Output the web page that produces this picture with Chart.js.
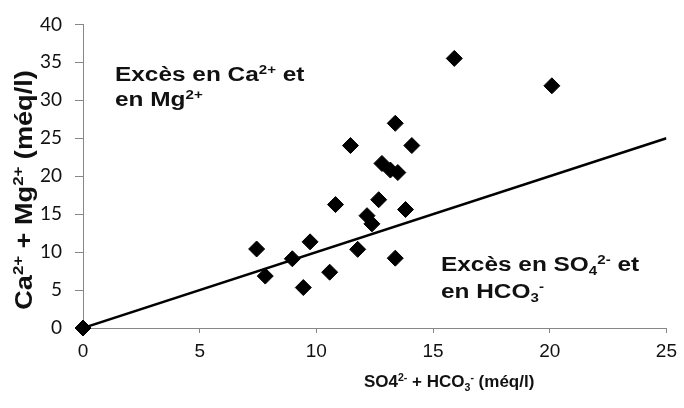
<!DOCTYPE html>
<html><head><meta charset="utf-8">
<script src="https://cdn.jsdelivr.net/npm/chart.js@4/dist/chart.umd.min.js"></script>
<style>html,body{margin:0;padding:0;background:#fff}#wrap{width:684px;height:408px}</style>
</head><body><div id="wrap"><canvas id="c" width="684" height="408"></canvas></div>
<script>
// SO4(2-) + HCO3(-) (méq/l)
const sumAnions = [0, 7.44, 7.81, 8.97, 9.73, 9.44, 10.57, 10.82, 11.46, 11.77, 12.17, 12.38, 12.67, 12.81, 13.17, 13.49, 13.38, 13.38, 13.82, 14.09, 15.91, 20.09];
// Ca(2+) + Mg(2+) (méq/l)
const sumCations = [0, 10.41, 6.84, 9.12, 11.35, 5.33, 7.35, 16.26, 24.04, 10.36, 14.8, 13.72, 16.9, 21.68, 20.81, 20.48, 26.97, 9.2, 15.61, 24.04, 35.52, 31.91];
// 1:1 reference line
const lineX = [0, 25];
const lineY = [0, 25];
const xTicks = [0, 5, 10, 15, 20, 25];
const yTicks = [0, 5, 10, 15, 20, 25, 30, 35, 40];

const FAMILY = '"Liberation Sans", Arial, sans-serif';
const TEXT = '#111';
const AXIS = '#878787';

function drawRich(ctx, x, y, parts, size, sx) {
  ctx.save();
  ctx.translate(x, y);
  ctx.scale(sx || 1, 1);
  let cx = 0;
  ctx.fillStyle = TEXT;
  ctx.textBaseline = 'alphabetic';
  ctx.textAlign = 'left';
  for (const [t, m] of parts) {
    const fs = m ? size * 0.62 : size;
    ctx.font = 'bold ' + fs + 'px ' + FAMILY;
    const dy = m === 'sup' ? -size * 0.36 : (m === 'sub' ? size * 0.22 : 0);
    ctx.fillText(t, cx, dy);
    cx += ctx.measureText(t).width;
  }
  ctx.restore();
  return cx * (sx || 1);
}
function richWidth(ctx, parts, size) {
  let w = 0;
  for (const [t, m] of parts) {
    const fs = m ? size * 0.62 : size;
    ctx.font = 'bold ' + fs + 'px ' + FAMILY;
    w += ctx.measureText(t).width;
  }
  return w;
}

const annot1a = [['Excès en Ca', ''], ['2+', 'sup'], [' et', '']];
const annot1b = [['en Mg', ''], ['2+', 'sup']];
const annot2a = [['Excès en SO', ''], ['4', 'sub'], ['2-', 'sup'], [' et', '']];
const annot2b = [['en HCO', ''], ['3', 'sub'], ['-', 'sup']];
const xTitle = [['SO4', ''], ['2-', 'sup'], [' + HCO', ''], ['3', 'sub'], ['-', 'sup'], [' (méq/l)', '']];
const yTitle = [['Ca', ''], ['2+', 'sup'], [' + Mg', ''], ['2+', 'sup'], [' (méq/l)', '']];

const textPlugin = {
  id: 'richText',
  afterDraw(chart) {
    const ctx = chart.ctx;
    ctx.save();
    drawRich(ctx, 115, 81, annot1a, 20, 1.22);
    drawRich(ctx, 115, 106, annot1b, 20, 1.22);
    drawRich(ctx, 441, 271, annot2a, 20, 1.22);
    drawRich(ctx, 441, 298, annot2b, 20, 1.22);
    drawRich(ctx, 364, 387, xTitle, 17, 1);
    const ys = 24, ysx = 1.13;
    const w = richWidth(ctx, yTitle, ys) * ysx;
    ctx.translate(32, 190 + w / 2);
    ctx.rotate(-Math.PI / 2);
    drawRich(ctx, 0, 0, yTitle, ys, ysx);
    ctx.restore();
  }
};

new Chart(document.getElementById('c'), {
  type: 'scatter',
  data: {
    datasets: [
      {
        type: 'line',
        data: lineX.map((x, i) => ({ x, y: lineY[i] })),
        borderColor: '#000',
        borderWidth: 2.5,
        pointRadius: 0,
        fill: false,
        order: 2
      },
      {
        data: sumAnions.map((x, i) => ({ x, y: sumCations[i] })),
        pointStyle: 'rectRot',
        pointRadius: 8,
        pointBackgroundColor: '#000',
        pointBorderColor: '#000',
        pointBorderWidth: 1,
        clip: false,
        order: 1
      }
    ]
  },
  options: {
    responsive: false,
    animation: false,
    devicePixelRatio: 1,
    layout: { padding: { left: 0, top: 18, right: 15, bottom: 0 } },
    plugins: { legend: { display: false }, tooltip: { enabled: false } },
    scales: {
      x: {
        type: 'linear', min: 0, max: 25,
        afterBuildTicks: s => { s.ticks = xTicks.map(v => ({ value: v })); },
        afterFit: s => { s.height = 80; },
        border: { color: AXIS, width: 1 },
        grid: { drawOnChartArea: false, drawTicks: true, tickLength: 5, color: AXIS },
        ticks: { padding: 7, color: TEXT, font: { family: FAMILY, size: 19 }, maxRotation: 0 }
      },
      y: {
        type: 'linear', min: 0, max: 40,
        afterBuildTicks: s => { s.ticks = yTicks.map(v => ({ value: v })); },
        afterFit: s => { s.width = 83; },
        border: { color: AXIS, width: 1 },
        grid: { drawOnChartArea: false, drawTicks: true, tickLength: 8, color: AXIS },
        ticks: { padding: 13, color: TEXT, font: { family: 'Lato, "Open Sans", sans-serif', size: 19 } }
      }
    }
  },
  plugins: [textPlugin]
});
</script></body></html>
